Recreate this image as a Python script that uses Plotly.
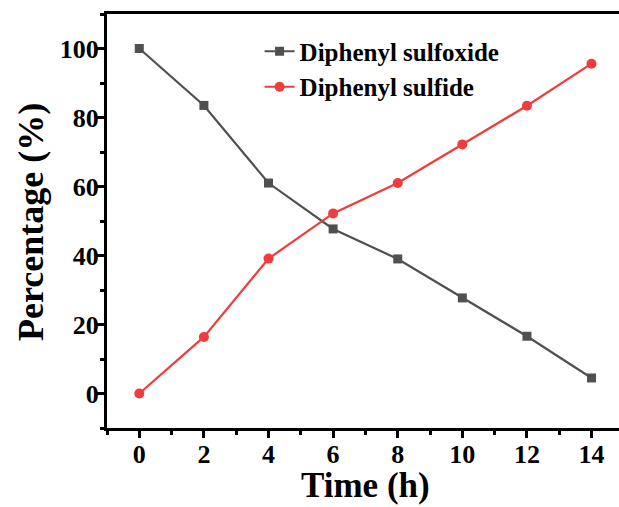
import plotly.graph_objects as go

time_h = [0, 2, 4, 6, 8, 10, 12, 14]
sulfoxide = [100, 83.5, 61, 47.7, 39, 27.7, 16.6, 4.5]
sulfide = [0, 16.4, 39.1, 52.2, 61, 72.2, 83.4, 95.6]
x_ticks = [0, 2, 4, 6, 8, 10, 12, 14]
y_ticks = [0, 20, 40, 60, 80, 100]

FONT = "Liberation Serif, Times New Roman, serif"

fig = go.Figure()
fig.add_trace(go.Scatter(
    x=time_h, y=sulfoxide, mode="lines+markers", name="Diphenyl sulfoxide",
    line=dict(color="#505050", width=2.2),
    marker=dict(symbol="square", size=9, color="#505050")))
fig.add_trace(go.Scatter(
    x=time_h, y=sulfide, mode="lines+markers", name="Diphenyl sulfide",
    line=dict(color="#f03c3c", width=2.2),
    marker=dict(symbol="circle", size=10, color="#f03c3c")))

fig.update_layout(
    width=619, height=507,
    margin=dict(l=107, r=0, t=14, b=79),
    paper_bgcolor="white", plot_bgcolor="white",
    font=dict(family=FONT, color="black", size=26, weight="bold"),
    showlegend=True,
    legend=dict(x=0.298, y=0.965, xanchor="left", yanchor="top",
                bgcolor="rgba(0,0,0,0)", font=dict(size=25, family=FONT, weight="bold"),
                tracegroupgap=0, itemwidth=30),
    xaxis=dict(range=[-1, 14.85], tickvals=x_ticks, ticktext=[str(v) for v in x_ticks],
               showgrid=False, zeroline=False, showline=True, linecolor="black", linewidth=3,
               mirror=True, ticks="outside", ticklen=7, tickwidth=2.5, tickcolor="black",
               ticklabelstandoff=-6,
               minor=dict(tickvals=[-1, 1, 3, 5, 7, 9, 11, 13], ticks="outside", ticklen=4,
                          tickwidth=2.5, tickcolor="black"),
               tickfont=dict(size=26, family=FONT, weight="bold")),
    yaxis=dict(range=[-10, 110], tickvals=y_ticks, ticktext=[str(v) for v in y_ticks],
               showgrid=False, zeroline=False, showline=True, linecolor="black", linewidth=3,
               ticks="outside", ticklen=7, tickwidth=2.5, tickcolor="black",
               ticklabelstandoff=-7,
               minor=dict(tickvals=[-10, 10, 30, 50, 70, 90, 110], ticks="outside", ticklen=4,
                          tickwidth=2.5, tickcolor="black"),
               tickfont=dict(size=26, family=FONT, weight="bold")),
    annotations=[
        dict(text="Time (h)", xref="paper", yref="paper", x=0.504, y=-0.1377,
             xanchor="center", yanchor="middle", showarrow=False,
             font=dict(size=35, family=FONT, weight="bold")),
        dict(text="Percentage (%)", xref="paper", yref="paper", x=-0.1484, y=0.4976,
             xanchor="center", yanchor="middle", textangle=-90, showarrow=False,
             font=dict(size=36, family=FONT, weight="bold")),
    ],
)

fig.write_html("out.html")
